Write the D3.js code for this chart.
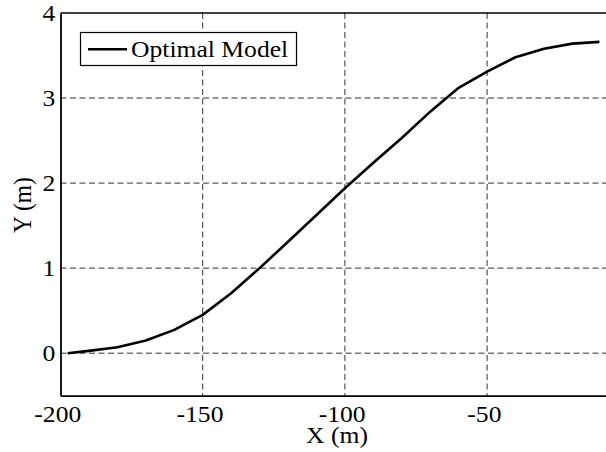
<!DOCTYPE html>
<html>
<head>
<meta charset="utf-8">
<script src="https://cdn.jsdelivr.net/npm/d3@7"></script>
<style>
html,body{margin:0;padding:0;background:#fff;overflow:hidden;}
svg{display:block;}
</style>
</head>
<body>
<script>
const xValues = [-197.5, -190, -180, -170, -160, -150, -140, -130, -120, -110, -100, -90, -80, -70, -60, -50, -40, -30, -20, -10.5];
const yValues = [0.00, 0.027, 0.07, 0.148, 0.274, 0.45, 0.705, 1.0, 1.31, 1.625, 1.94, 2.24, 2.53, 2.84, 3.12, 3.31, 3.48, 3.58, 3.64, 3.66];
const xTicks = [-200, -150, -100, -50];
const yTicks = [0, 1, 2, 3, 4];
const seriesName = "Optimal Model";
const xLabel = "X (m)";
const yLabel = "Y (m)";

const W = 606, H = 452;
const FONT = "Liberation Serif";
const FS = 23.5;
const SX = 1.09;
const svg = d3.select("body").append("svg").attr("width", W).attr("height", H)
  .attr("font-family", FONT);

const x = d3.scaleLinear().domain([-200, 0]).range([60.5, 629.3]);
const y = d3.scaleLinear().domain([-0.5, 4]).range([395.7, 13]);

const grid = svg.append("g").attr("stroke", "#333").attr("stroke-width", 1).attr("stroke-dasharray", "6,3.5");
grid.selectAll("line.v").data(xTicks.filter(d => d > -200)).enter().append("line")
  .attr("x1", d => x(d)).attr("x2", d => x(d)).attr("y1", y(4)).attr("y2", y(-0.5));
grid.selectAll("line.h").data(yTicks.filter(d => d < 4)).enter().append("line")
  .attr("x1", x(-200)).attr("x2", x(0)).attr("y1", d => y(d)).attr("y2", d => y(d));

const xAxis = d3.axisBottom(x).tickValues(xTicks).tickSize(0).tickPadding(9.3).tickFormat(d => String(d));
const gx = svg.append("g").attr("transform", `translate(0,${y(-0.5)})`).call(xAxis);
gx.attr("font-family", FONT).attr("font-size", FS);
gx.select(".domain").attr("stroke", "#000").attr("stroke-width", 1.8);
gx.selectAll(".tick text").attr("font-family", FONT).attr("font-size", FS).attr("fill", "#000")
  .attr("x", -3.2 / SX).attr("transform", `scale(${SX},1)`);

const yAxis = d3.axisLeft(y).tickValues(yTicks).tickSize(0).tickPadding(5.2).tickFormat(d => String(d));
const gy = svg.append("g").attr("transform", `translate(${x(-200)},0)`).call(yAxis);
gy.attr("font-family", FONT).attr("font-size", FS);
gy.select(".domain").attr("stroke", "#000").attr("stroke-width", 1.8);
gy.selectAll(".tick text").attr("font-family", FONT).attr("font-size", FS).attr("fill", "#000")
  .attr("x", -5.2 / SX).attr("transform", `scale(${SX},1)`);

svg.append("line").attr("x1", x(-200)).attr("x2", x(0)).attr("y1", y(4)).attr("y2", y(4))
  .attr("stroke", "#000").attr("stroke-width", 1.5);

const data = xValues.map((d, i) => [d, yValues[i]]);
svg.append("path").datum(data)
  .attr("fill", "none").attr("stroke", "#000").attr("stroke-width", 2.6).attr("stroke-linejoin", "round")
  .attr("d", d3.line().x(d => x(d[0])).y(d => y(d[1])));

const lg = svg.append("g");
lg.append("rect").attr("x", 80.5).attr("y", 32.5).attr("width", 216).attr("height", 33)
  .attr("fill", "#fff").attr("stroke", "#000").attr("stroke-width", 1.2);
lg.append("line").attr("x1", 88).attr("x2", 127).attr("y1", 49.3).attr("y2", 49.3)
  .attr("stroke", "#000").attr("stroke-width", 2.6);
lg.append("text").attr("transform", `translate(131,57) scale(${SX},1)`)
  .attr("font-size", FS).attr("fill", "#000").text(seriesName);

svg.append("text").attr("transform", `translate(337,442.5) scale(${SX},1)`)
  .attr("text-anchor", "middle").attr("font-size", FS).text(xLabel);
svg.append("text").attr("transform", `translate(31,205) rotate(-90) scale(1,${SX})`)
  .attr("text-anchor", "middle").attr("font-size", FS).text(yLabel);
</script>
</body>
</html>
